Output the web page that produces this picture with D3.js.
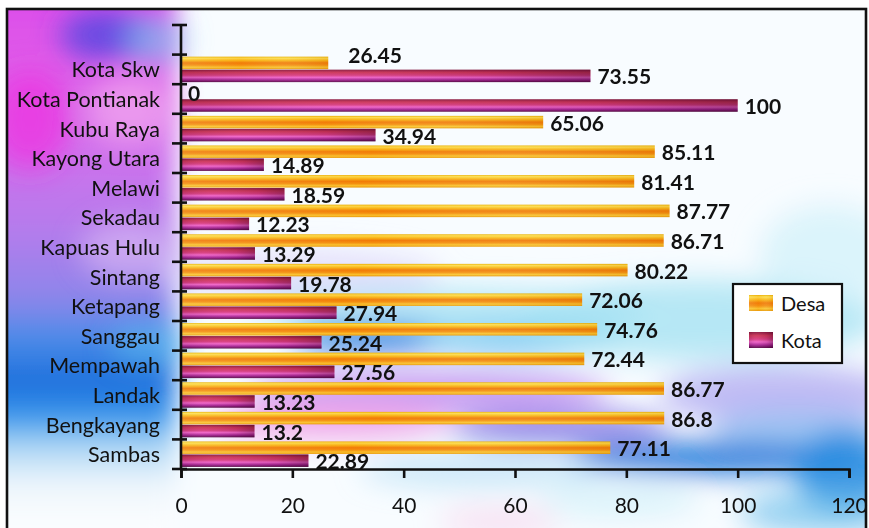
<!DOCTYPE html>
<html>
<head>
<meta charset="utf-8">
<script src="https://cdn.jsdelivr.net/npm/d3@7"></script>
<style>
  html, body { margin: 0; padding: 0; background: #ffffff; }
  svg { display: block; }
  text { font-family: Lato, "Open Sans", sans-serif; }
</style>
</head>
<body>
<svg id="chart" width="869" height="528"></svg>
<script>
// Kabupaten / kota, top to bottom
const categories = ["Kota Skw", "Kota Pontianak", "Kubu Raya", "Kayong Utara", "Melawi",
  "Sekadau", "Kapuas Hulu", "Sintang", "Ketapang", "Sanggau", "Mempawah", "Landak",
  "Bengkayang", "Sambas"];
const desa = [26.45, 0, 65.06, 85.11, 81.41, 87.77, 86.71, 80.22, 72.06, 74.76, 72.44, 86.77, 86.8, 77.11];
const kota = [73.55, 100, 34.94, 14.89, 18.59, 12.23, 13.29, 19.78, 27.94, 25.24, 27.56, 13.23, 13.2, 22.89];
const seriesNames = ["Desa", "Kota"];
const xTicks = [0, 20, 40, 60, 80, 100, 120];

const plot = { left: 181, right: 849, top: 25, bottom: 469 };

const svg = d3.select("#chart");
const defs = svg.append("defs");

// ---- gradients for bars -------------------------------------------------
const gDesa = defs.append("linearGradient").attr("id", "gDesa")
  .attr("x1", 0).attr("y1", 0).attr("x2", 0).attr("y2", 1);
[[0, "#e8b000"], [0.12, "#fde050"], [0.3, "#f8b818"], [0.5, "#f07a08"],
 [0.68, "#f39010"], [0.85, "#f9c630"], [1, "#e89a08"]]
  .forEach(([o, c]) => gDesa.append("stop").attr("offset", o).attr("stop-color", c));

const gKota = defs.append("linearGradient").attr("id", "gKota")
  .attr("x1", 0).attr("y1", 0).attr("x2", 0).attr("y2", 1);
[[0, "#8a1840"], [0.22, "#cc3458"], [0.45, "#d83c80"], [0.62, "#f062c8"],
 [0.82, "#a82494"], [1, "#5a0c48"]]
  .forEach(([o, c]) => gKota.append("stop").attr("offset", o).attr("stop-color", c));

// horizontal shading laid over the bar colour
const gShadeK = defs.append("linearGradient").attr("id", "gShadeK")
  .attr("x1", 0).attr("y1", 0).attr("x2", 1).attr("y2", 0);
[[0, "#200010", 0.12], [0.3, "#fff", 0.05], [0.75, "#300020", 0.1], [1, "#300020", 0.35]]
  .forEach(([o, c, a]) => gShadeK.append("stop").attr("offset", o).attr("stop-color", c).attr("stop-opacity", a));
const gShadeD = defs.append("linearGradient").attr("id", "gShadeD")
  .attr("x1", 0).attr("y1", 0).attr("x2", 1).attr("y2", 0);
[[0, "#fff", 0.1], [0.4, "#ff8000", 0.12], [0.7, "#fff", 0.08], [1, "#c06000", 0.15]]
  .forEach(([o, c, a]) => gShadeD.append("stop").attr("offset", o).attr("stop-color", c).attr("stop-opacity", a));

// ---- chart-area backdrop -------------------------------------------------
defs.append("filter").attr("id", "soft").attr("x", "-20%").attr("y", "-20%")
  .attr("width", "140%").attr("height", "140%")
  .append("feGaussianBlur").attr("stdDeviation", 14);
defs.append("filter").attr("id", "edge").attr("x", "-20%").attr("y", "-20%")
  .attr("width", "140%").attr("height", "140%")
  .append("feGaussianBlur").attr("stdDeviation", 12);
defs.append("clipPath").attr("id", "areaClip")
  .append("rect").attr("x", 7).attr("y", 9).attr("width", 859).attr("height", 530);

// colour band running down the left side behind the category names
const gLeft = defs.append("linearGradient").attr("id", "gLeft")
  .attr("x1", 0).attr("y1", 0).attr("x2", 0).attr("y2", 1);
[[0, "#d848ec"], [0.12, "#e058e8"], [0.3, "#d070ec"], [0.45, "#b47cec"],
 [0.57, "#8c86ea"], [0.64, "#4a8ce8"], [0.72, "#1c6edc"], [0.78, "#3a98ec"],
 [0.83, "#a8d4f4"], [0.9, "#eef6fc"], [1, "#ffffff"]]
  .forEach(([o, c]) => gLeft.append("stop").attr("offset", o).attr("stop-color", c));

const bg = svg.append("g").attr("clip-path", "url(#areaClip)");
bg.append("rect").attr("x", 7).attr("y", 9).attr("width", 859).attr("height", 530).attr("fill", "#f8fcff");
bg.append("rect").attr("x", -30).attr("y", -20).attr("width", 205).attr("height", 560)
  .attr("fill", "url(#gLeft)").attr("filter", "url(#edge)");
const blobs = bg.append("g").attr("filter", "url(#soft)");
const blob = (cx, cy, rx, ry, c, o) => blobs.append("ellipse")
  .attr("cx", cx).attr("cy", cy).attr("rx", rx).attr("ry", ry)
  .attr("fill", c).attr("opacity", o);
// accents in the left band
blob(105, 35, 45, 25, "#4a48e0", 0.8);
blob(155, 40, 30, 25, "#70d0f0", 0.6);
blob(130, 110, 45, 35, "#f8b8f0", 0.6);
blob(30, 120, 40, 50, "#f030e0", 0.7);
blob(130, 250, 50, 30, "#e0c0f4", 0.6);
blob(150, 345, 40, 20, "#60c8f0", 0.5);
// inside plot: soft lavender, blue and pink streaks lower down
blob(300, 275, 140, 25, "#dcd4fa", 0.7);
blob(450, 310, 200, 22, "#9ee0f2", 0.7);
blob(370, 338, 80, 14, "#1a78e0", 0.9);
blob(520, 340, 100, 16, "#70c4f0", 0.8);
blob(430, 392, 180, 22, "#c090f0", 0.85);
blob(330, 420, 120, 20, "#f0a0e8", 0.85);
blob(560, 428, 110, 18, "#7060e0", 0.7);
blob(780, 395, 120, 30, "#a8a0f0", 0.7);
blob(700, 320, 180, 40, "#a0e0f2", 0.75);
blob(830, 255, 70, 50, "#c8eef8", 0.6);
blob(800, 430, 90, 18, "#80b8f0", 0.7);
blob(720, 458, 150, 16, "#1070d8", 0.9);
blob(845, 470, 50, 40, "#2088e0", 0.85);
blob(820, 512, 80, 22, "#60b8ea", 0.65);
blob(480, 470, 120, 18, "#a8d8f2", 0.55);
blob(500, 522, 60, 14, "#f8c8e8", 0.55);
blob(620, 500, 80, 18, "#c4ecf8", 0.55);

// outer frame
svg.append("rect").attr("x", 7).attr("y", 9).attr("width", 859).attr("height", 540)
  .attr("fill", "none").attr("stroke", "#111").attr("stroke-width", 2.6);

// ---- scales ---------------------------------------------------------------
const x = d3.scaleLinear().domain([0, 120]).range([plot.left, plot.right]);
const step = (plot.bottom - plot.top) / (categories.length + 1);
const y = d3.scaleBand().domain(categories)
  .range([plot.top + step, plot.bottom]).paddingInner(0).paddingOuter(0);
const ySub = d3.scaleBand().domain(seriesNames).range([0, y.bandwidth()])
  .paddingInner(0.04).paddingOuter(0.16);

const rows = categories.map((c, i) => ({ cat: c, Desa: desa[i], Kota: kota[i] }));
const fills = { Desa: "url(#gDesa)", Kota: "url(#gKota)" };
const shades = { Desa: "url(#gShadeD)", Kota: "url(#gShadeK)" };

// ---- bars -------------------------------------------------------------------
const bars = svg.append("g");
rows.forEach(r => {
  seriesNames.forEach(s => {
    const w = x(r[s]) - x(0);
    if (w <= 0) return;
    const yy = y(r.cat) + ySub(s);
    bars.append("rect").attr("x", x(0)).attr("y", yy)
      .attr("width", w).attr("height", ySub.bandwidth()).attr("fill", fills[s]);
    bars.append("rect").attr("x", x(0)).attr("y", yy)
      .attr("width", w).attr("height", ySub.bandwidth()).attr("fill", shades[s]);
  });
});

// ---- axes -----------------------------------------------------------------
const axisColor = "#111";
const xAxis = svg.append("g").attr("transform", `translate(0,${plot.bottom})`)
  .call(d3.axisBottom(x).tickValues(xTicks).tickSize(9).tickPadding(20));
xAxis.select(".domain").attr("stroke", axisColor).attr("stroke-width", 2.6);
xAxis.selectAll(".tick line").attr("stroke", axisColor).attr("stroke-width", 2.6);
xAxis.selectAll(".tick text").attr("fill", "#111").style("font-size", "21px")
  .style("font-family", "Lato, sans-serif");

// y axis: line, boundary ticks, category labels
const yAxis = svg.append("g");
yAxis.append("line").attr("x1", plot.left).attr("x2", plot.left)
  .attr("y1", plot.top).attr("y2", plot.bottom + 1)
  .attr("stroke", axisColor).attr("stroke-width", 2.6);
const bounds = d3.range(categories.length + 2).map(i => plot.top + i * step);
yAxis.selectAll("line.tk").data(bounds).join("line").attr("class", "tk")
  .attr("x1", plot.left - 9).attr("x2", plot.left + 6)
  .attr("y1", d => d).attr("y2", d => d)
  .attr("stroke", axisColor).attr("stroke-width", 2.6);
yAxis.selectAll("text").data(categories).join("text")
  .attr("x", plot.left - 21).attr("y", d => y(d) + y.bandwidth() / 2)
  .attr("text-anchor", "end").attr("dominant-baseline", "central")
  .attr("fill", "#111").style("font-size", "21.5px")
  .text(d => d);

// ---- value labels -----------------------------------------------------------
const nudge = { "Kota Skw|Desa": [13, -8] };
const labels = svg.append("g");
rows.forEach(r => {
  seriesNames.forEach(s => {
    const n = nudge[r.cat + "|" + s] || [0, 0];
    labels.append("text")
      .attr("x", x(r[s]) + 7 + n[0])
      .attr("y", y(r.cat) + ySub(s) + ySub.bandwidth() / 2 + n[1])
      .attr("dominant-baseline", "central")
      .attr("fill", "#111").style("font-size", "21px").style("font-weight", 700)
      .text(d3.format("~g")(r[s]));
  });
});

// ---- legend -------------------------------------------------------------------
const lg = svg.append("g").attr("transform", "translate(733,284)");
lg.append("rect").attr("width", 109).attr("height", 79)
  .attr("fill", "#fff").attr("stroke", "#111").attr("stroke-width", 2.2);
seriesNames.forEach((s, i) => {
  const gy = 19 + i * 37;
  lg.append("rect").attr("x", 16).attr("y", gy - 8).attr("width", 24).attr("height", 16)
    .attr("fill", fills[s]);
  lg.append("rect").attr("x", 16).attr("y", gy - 8).attr("width", 24).attr("height", 16)
    .attr("fill", shades[s]);
  lg.append("text").attr("x", 48).attr("y", gy).attr("dominant-baseline", "central")
    .attr("fill", "#111").style("font-size", "20px").text(s);
});
</script>
</body>
</html>
